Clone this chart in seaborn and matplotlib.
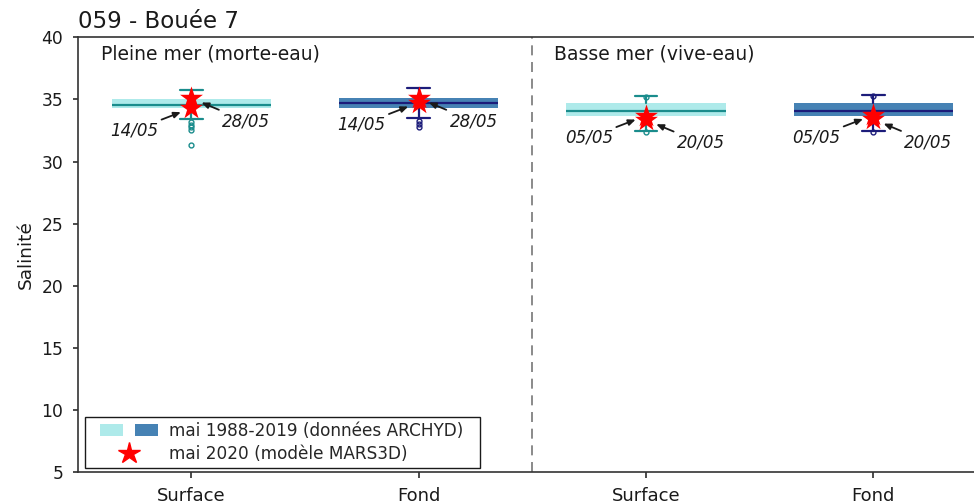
import matplotlib
matplotlib.use("Agg")
import matplotlib.pyplot as plt
from matplotlib.patches import Rectangle
from matplotlib.lines import Line2D
import seaborn as sns
import pandas as pd

# --- Climatology (May 1988-2019, ARCHYD) : box statistics per group ---
groups = ["Surface", "Fond", "Surface", "Fond"]
positions = [0, 1, 2, 3]
q1 = [34.3, 34.3, 33.7, 33.7]
median = [34.55, 34.7, 34.05, 34.05]
q3 = [35.05, 35.1, 34.7, 34.7]
whisker_low = [33.4, 33.5, 32.45, 32.5]
whisker_high = [35.8, 35.9, 35.3, 35.35]
outliers = [
    [33.15, 32.95, 32.75, 32.55, 31.3],
    [33.25, 33.05, 32.8],
    [35.2, 32.4],
    [35.25, 32.4],
]

# --- MARS3D model, May 2020 ---
model_pos = [0, 0, 1, 1, 2, 2, 3, 3]
model_dates = ["14/05", "28/05", "14/05", "28/05", "05/05", "20/05", "05/05", "20/05"]
model_values = [34.3, 35.1, 34.75, 35.1, 33.7, 33.35, 33.75, 33.4]

section_labels = ["Pleine mer (morte-eau)", "Basse mer (vive-eau)"]

light = "#aeeaea"
dark = "#4682b4"
teal = "#1a8c8c"
navy = "#1c1c7a"
band_colors = [light, dark, light, dark]
line_colors = [teal, navy, teal, navy]


class TwoBandHandler:
    """Legend handle showing the two climatology band colours side by side."""

    def legend_artist(self, legend, orig_handle, fontsize, handlebox):
        x0, y0 = -handlebox.xdescent, -handlebox.ydescent
        w, h = handlebox.width, handlebox.height
        tr = handlebox.get_transform()
        r1 = Rectangle((x0 + 0.15 * w, y0), 0.35 * w, h, facecolor=light,
                       edgecolor="none", transform=tr)
        r2 = Rectangle((x0 + 0.68 * w, y0), 0.35 * w, h, facecolor=dark,
                       edgecolor="none", transform=tr)
        handlebox.add_artist(r1)
        handlebox.add_artist(r2)
        return r1


class StarHandler:
    """Legend handle with a red star centred under the two bands."""

    def legend_artist(self, legend, orig_handle, fontsize, handlebox):
        x0, y0 = -handlebox.xdescent, -handlebox.ydescent
        w, h = handlebox.width, handlebox.height
        star = Line2D([x0 + 0.59 * w], [y0 + 0.5 * h], marker="*", color="red",
                      linestyle="none", markersize=16, transform=handlebox.get_transform())
        handlebox.add_artist(star)
        return star


sns.set_style("ticks")
plt.rcParams["font.family"] = ["DejaVu Sans"]

fig = plt.figure(figsize=(9.74, 5.03), dpi=100)
ax = fig.add_axes([0.0796, 0.061, 0.9338, 0.8648])

for i, p in enumerate(positions):
    stats = [dict(med=median[i], q1=q1[i], q3=q3[i],
                  whislo=whisker_low[i], whishi=whisker_high[i],
                  fliers=outliers[i])]
    ax.bxp(stats, positions=[p], widths=0.7, capwidths=0.1,
           patch_artist=True, manage_ticks=False,
           boxprops=dict(facecolor=band_colors[i], edgecolor=band_colors[i], linewidth=0),
           medianprops=dict(color=line_colors[i], linewidth=1.6),
           whiskerprops=dict(color=line_colors[i], linewidth=1.6),
           capprops=dict(color=line_colors[i], linewidth=1.6),
           flierprops=dict(marker="o", markersize=3.5, markerfacecolor="none",
                           markeredgecolor=line_colors[i], markeredgewidth=1))

model_df = pd.DataFrame({"x": model_pos, "salinite": model_values, "date": model_dates})
sns.scatterplot(data=model_df, x="x", y="salinite", marker="*", s=300,
                color="red", edgecolor="red", linewidth=0, zorder=5, ax=ax, legend=False)

# Date annotations: first date on the left, second on the right
for k, (x, v, d) in enumerate(zip(model_pos, model_values, model_dates)):
    off = (-57, -22) if k % 2 == 0 else (55, -23)
    ax.annotate(d, xy=(x, v), xytext=off, textcoords="offset pixels",
                ha="center", va="center", fontsize=12, style="italic", color="#1a1a1a",
                arrowprops=dict(arrowstyle="-|>,head_length=0.35,head_width=0.15",
                                color="#1a1a1a", lw=1.3, shrinkA=0, shrinkB=8),
                zorder=6)

ax.axvline(1.5, color="#777777", linestyle=(0, (6, 4)), linewidth=1.2)

ax.text(0.026, 0.962, section_labels[0], transform=ax.transAxes, fontsize=13.5,
        va="center", ha="left", color="#1a1a1a")
ax.text(0.524, 0.962, section_labels[1], transform=ax.transAxes, fontsize=13.5,
        va="center", ha="left", color="#1a1a1a")

ax.set_xlim(-0.5, 3.5)
ax.set_ylim(5, 40)
ax.set_xticks(positions)
ax.set_xticklabels(groups, fontsize=13)
ax.set_yticks(range(5, 41, 5))
ax.tick_params(axis="y", labelsize=12.3, colors="#1a1a1a", length=3.5, pad=6.8, width=1.1)
ax.tick_params(axis="x", colors="#1a1a1a", length=4.5, pad=5.8, width=1.1)
ax.set_xlabel("")
ax.set_ylabel("Salinité", fontsize=13.3, color="#1a1a1a", labelpad=5)
ax.set_title("059 - Bouée 7", loc="left", fontsize=16.5, color="#1a1a1a", pad=7)
for s in ["left", "bottom", "top", "right"]:
    ax.spines[s].set_color("#333333")
    ax.spines[s].set_linewidth(1.2)

bands_key = object()
star_key = object()
labels = ["mai 1988-2019 (données ARCHYD)", "mai 2020 (modèle MARS3D)"]
leg = ax.legend([bands_key, star_key], labels, loc="lower left",
                bbox_to_anchor=(0.008, 0.01, 0.434, 0.1), mode="expand",
                borderaxespad=0, borderpad=0.3, fontsize=12.2, handlelength=3.9,
                handleheight=0.75, handletextpad=0.75, labelspacing=0.3,
                fancybox=False, framealpha=1, edgecolor="#1a1a1a",
                handler_map={bands_key: TwoBandHandler(), star_key: StarHandler()})
leg.get_frame().set_linewidth(1.0)

fig.savefig("out.png", dpi=100)
